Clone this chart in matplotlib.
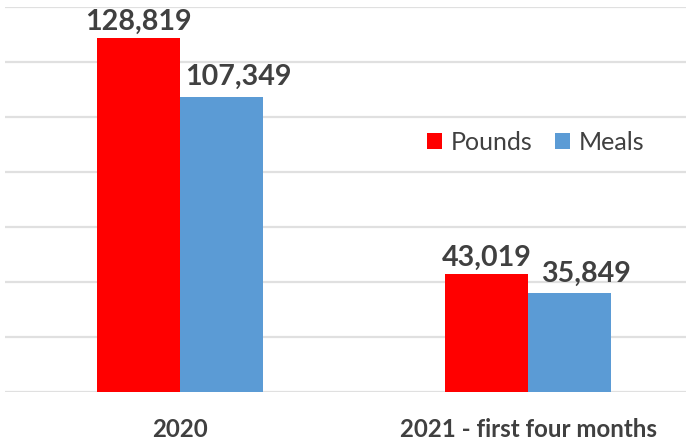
import matplotlib.pyplot as plt
import numpy as np

categories = ["2020", "2021 - first four months"]
pounds = [128819, 43019]
meals = [107349, 35849]

W, H = 686, 442
fig = plt.figure(figsize=(W / 100, H / 100), dpi=100)
ax = fig.add_axes([5 / W, (H - 392) / H, 681 / W, 385 / H])

x = np.arange(len(categories))
bw = 0.2385
red = "#ff0000"
blue = "#5b9bd5"
txt = "#404040"
fam = ["Lato", "DejaVu Sans"]

b1 = ax.bar(x - bw / 2, pounds, bw, color=red, label="Pounds", zorder=3)
b2 = ax.bar(x + bw / 2, meals, bw, color=blue, label="Meals", zorder=3)

# labels of the Meals bars sit a little to the right and higher, as in the original
for bars, dx, dy in ((b1, 0, 6), (b2, 12, 8.5)):
    for r in bars:
        ax.annotate(f"{int(r.get_height()):,}", (r.get_x() + r.get_width() / 2, r.get_height()),
                    xytext=(dx, dy), textcoords="offset points", ha="center", va="baseline",
                    fontsize=20.6, fontweight="bold", color=txt, family=fam)

ax.set_ylim(0, 140000)
ax.set_xlim(-0.503, 1.454)
ax.set_yticks(np.arange(0, 140001, 20000))
ax.yaxis.grid(True, color="#e0e0e0", linewidth=1.6, zorder=0)
ax.set_yticklabels([])
ax.tick_params(axis="y", length=0)
ax.tick_params(axis="x", length=0, pad=19)
ax.set_xticks(x)
ax.set_xticklabels(categories, fontsize=17.3, fontweight="bold", color=txt, family=fam)
for s in ax.spines.values():
    s.set_visible(False)

ax.legend(loc="center", bbox_to_anchor=(531 / 681, (392 - 142) / 385), ncol=2, frameon=False,
          handlelength=0.6, handleheight=0.6, handletextpad=0.35, columnspacing=0.9,
          prop={"family": fam, "size": 18}, labelcolor=txt)

fig.savefig("out.png", dpi=100)
